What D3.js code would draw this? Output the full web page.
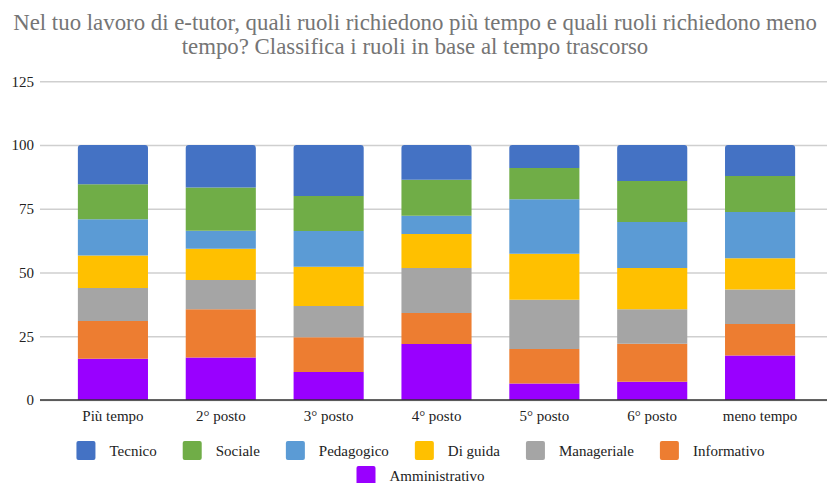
<!DOCTYPE html>
<html>
<head>
<meta charset="utf-8">
<script src="https://cdn.jsdelivr.net/npm/d3@7"></script>
<style>
  body { margin: 0; background: #fff; }
  text { font-family: "Liberation Serif", "DejaVu Serif", serif; }
</style>
</head>
<body>
<svg></svg>
<script>
const titleLines = [
  "Nel tuo lavoro di e-tutor, quali ruoli richiedono più tempo e quali ruoli richiedono meno",
  "tempo? Classifica i ruoli in base al tempo trascorso"
];

const categories = ["Più tempo", "2° posto", "3° posto", "4° posto", "5° posto", "6° posto", "meno tempo"];

// legend order, top of the stack first
const seriesNames = ["Tecnico", "Sociale", "Pedagogico", "Di guida", "Manageriale", "Informativo", "Amministrativo"];

const tecnico = [15.4, 16.7, 20.0, 13.6, 9.0, 14.1, 12.2];
const sociale = [13.7, 16.9, 13.7, 14.1, 12.3, 16.1, 14.1];
const pedagogico = [14.2, 7.1, 14.0, 7.2, 21.3, 18.0, 18.1];
const diGuida = [12.8, 12.2, 15.4, 13.3, 18.1, 16.2, 12.3];
const manageriale = [12.9, 11.5, 12.3, 17.7, 19.3, 13.5, 13.5];
const informativo = [14.8, 18.9, 13.6, 12.1, 13.5, 14.9, 12.3];
const amministrativo = [16.2, 16.7, 11.0, 22.0, 6.5, 7.2, 17.5];

const yTicks = [0, 25, 50, 75, 100, 125];

const colors = ["#4472c4", "#70ad47", "#5b9bd5", "#ffc000", "#a5a5a5", "#ed7d31", "#9900ff"];

const seriesValues = [tecnico, sociale, pedagogico, diGuida, manageriale, informativo, amministrativo];

// table for d3.stack, one row per category
const rows = categories.map(function(c, i) {
  const row = { category: c };
  seriesNames.forEach(function(s, j) {
    row[s] = seriesValues[j][i];
  });
  return row;
});

const width = 827;
const height = 483;
const serif = "Liberation Serif, DejaVu Serif, serif";

const svg = d3.select("svg").attr("width", width).attr("height", height);

const x = d3
  .scaleBand()
  .domain(categories)
  .range([59, 814])
  .paddingInner(0.35)
  .paddingOuter(0.175);

const y = d3.scaleLinear().domain([0, 125]).range([400, 81.25]);

// title; size picked so the first line fills about 806px like the reference
const title = svg
  .append("g")
  .selectAll("text")
  .data(titleLines)
  .enter()
  .append("text")
  .attr("x", 415)
  .attr("y", (d, i) => 30 + i * 23.5)
  .attr("text-anchor", "middle")
  .style("font-family", serif)
  .style("font-size", "24px")
  .style("fill", "#757575")
  .text(d => d);

const firstWidth = title.node().getComputedTextLength();
title.style("font-size", Math.min(24, (24 * 804) / firstWidth) + "px");

// gridlines
const grid = svg
  .append("g")
  .attr("transform", "translate(40,0)")
  .call(
    d3
      .axisLeft(y)
      .tickValues(yTicks)
      .tickSize(-787)
      .tickFormat("")
  );
grid.select(".domain").remove();
grid.selectAll("line").attr("stroke", "#cfcfcf").attr("stroke-width", 1.3);

// y axis labels
const yAxis = svg
  .append("g")
  .attr("transform", "translate(34,0)")
  .call(d3.axisLeft(y).tickValues(yTicks).tickSize(0).tickPadding(0));
yAxis.select(".domain").remove();
yAxis
  .selectAll("text")
  .style("font-family", serif)
  .style("font-size", "15px")
  .attr("fill", "#222");

// stacked bars, Amministrativo at the bottom
const stack = d3.stack().keys(seriesNames.slice().reverse());
const stacked = stack(rows);

const roundedTop = function(x0, y0, w, h, r) {
  return `M${x0},${y0 + h}V${y0 + r}Q${x0},${y0} ${x0 + r},${y0}` +
    `H${x0 + w - r}Q${x0 + w},${y0} ${x0 + w},${y0 + r}V${y0 + h}Z`;
};

const layers = svg
  .append("g")
  .selectAll("g")
  .data(stacked)
  .enter()
  .append("g")
  .attr("fill", d => colors[seriesNames.indexOf(d.key)]);

layers
  .selectAll("path")
  .data(d => d.map(p => ({ key: d.key, p: p })))
  .enter()
  .append("path")
  .attr("d", function(d) {
    const x0 = x(d.p.data.category);
    const y0 = y(d.p[1]);
    const h = y(d.p[0]) - y(d.p[1]);
    const r = d.key === "Tecnico" ? 3 : 0;
    return roundedTop(x0, y0, x.bandwidth(), h, r);
  });

// baseline
svg
  .append("line")
  .attr("x1", 40)
  .attr("x2", 827)
  .attr("y1", y(0))
  .attr("y2", y(0))
  .attr("stroke", "#333")
  .attr("stroke-width", 1.5);

// x axis labels
const xAxis = svg
  .append("g")
  .attr("transform", `translate(0,${y(0)})`)
  .call(d3.axisBottom(x).tickSize(0).tickPadding(0));
xAxis.select(".domain").remove();
xAxis
  .selectAll("text")
  .attr("dy", null)
  .attr("y", 21)
  .style("font-family", serif)
  .style("font-size", "15px")
  .attr("fill", "#222");

// legend, two centred rows
const legendRows = [seriesNames.slice(0, 6), seriesNames.slice(6)];
const legendY = [441, 466];
const swatch = 19;

legendRows.forEach(function(names, r) {
  const g = svg.append("g");
  const items = g
    .selectAll("g")
    .data(names)
    .enter()
    .append("g");

  items
    .append("rect")
    .attr("width", swatch)
    .attr("height", swatch)
    .attr("rx", 2)
    .attr("fill", d => colors[seriesNames.indexOf(d)]);

  items
    .append("text")
    .attr("x", swatch + 14)
    .attr("y", 15)
    .style("font-family", serif)
    .style("font-size", "15px")
    .attr("fill", "#222")
    .text(d => d);

  let cursor = 0;
  items.each(function() {
    const w = swatch + 14 + d3.select(this).select("text").node().getComputedTextLength();
    d3.select(this).attr("transform", `translate(${cursor},0)`);
    cursor += w + 26;
  });
  const total = cursor - 26;
  g.attr("transform", `translate(${420.5 - total / 2},${legendY[r]})`);
});
</script>
</body>
</html>
